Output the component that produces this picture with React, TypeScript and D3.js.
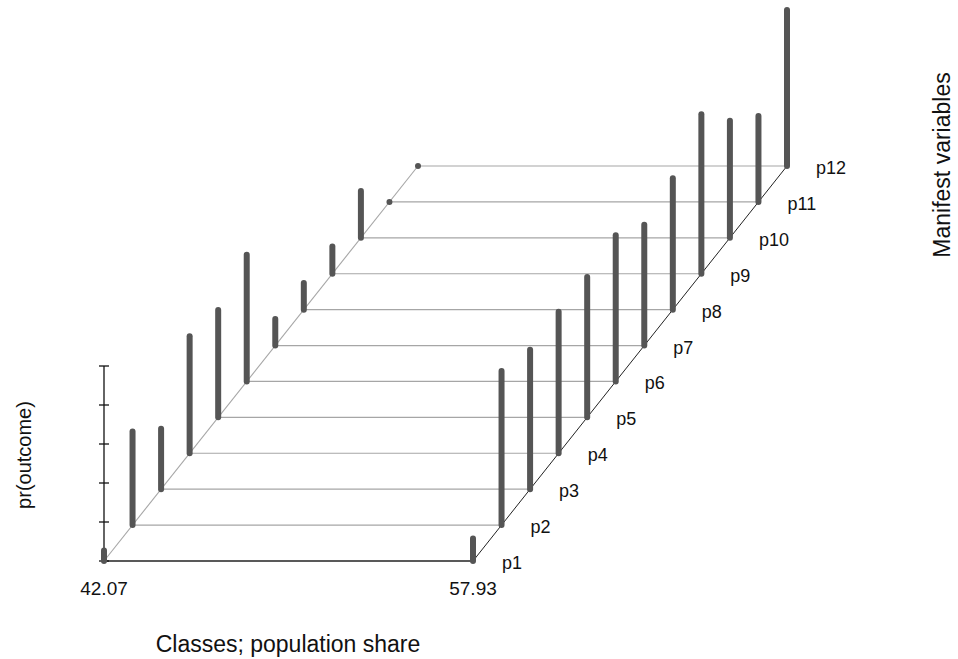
import React from "react";
import * as d3 from "d3";

const classLabels = ["42.07", "57.93"];
const variables = ["p1", "p2", "p3", "p4", "p5", "p6", "p7", "p8", "p9", "p10", "p11", "p12"];
const class1 = [0.054, 0.48, 0.31, 0.6, 0.55, 0.65, 0.136, 0.136, 0.14, 0.24, 0, 0];
const class2 = [0.115, 0.79, 0.715, 0.726, 0.72, 0.75, 0.62, 0.674, 0.818, 0.6, 0.44, 0.8];
const zTicks = [0, 0.2, 0.4, 0.6, 0.8, 1];

const W = 958;
const H = 659;
const FONT = "'Liberation Sans', Arial, Helvetica, sans-serif";

export default function App() {
  const series = [class1, class2];
  const xScale = d3.scaleLinear().domain([0, 1]).range([104, 473]);
  const depthX = d3.scaleLinear().domain([0, variables.length - 1]).range([0, 314]);
  const depthY = d3.scaleLinear().domain([0, variables.length - 1]).range([561, 166]);
  const zScale = d3.scaleLinear().domain([0, 1]).range([0, 195]);

  const proj = (ci: number, vi: number, z: number): [number, number] => [
    xScale(ci) + depthX(vi),
    depthY(vi) - zScale(z),
  ];

  const line = d3.line<[number, number]>();

  const last = variables.length - 1;

  return (
    <svg
      width={W}
      height={H}
      style={{ position: "absolute", left: 0, top: 0, background: "#fff" }}
      fontFamily={FONT}
    >
      {/* horizontal grid lines for each variable */}
      {variables.map((v, vi) =>
        vi === 0 ? null : (
          <path
            key={"g" + v}
            d={line([proj(0, vi, 0), proj(1, vi, 0)]) || ""}
            stroke="#a6a6a6"
            strokeWidth={1.2}
            fill="none"
          />
        )
      )}
      {/* left diagonal grid */}
      <path d={line([proj(0, 0, 0), proj(0, last, 0)]) || ""} stroke="#a6a6a6" strokeWidth={1.1} fill="none" />
      {/* right diagonal axis */}
      <path d={line([proj(1, 0, 0), proj(1, last, 0)]) || ""} stroke="#222" strokeWidth={1} fill="none" />
      {/* front x axis */}
      <path d={line([proj(0, 0, 0), proj(1, 0, 0)]) || ""} stroke="#222" strokeWidth={1.3} fill="none" />
      {/* z axis */}
      <path d={line([proj(0, 0, 0), proj(0, 0, 1)]) || ""} stroke="#111" strokeWidth={1.3} fill="none" />
      {zTicks.map((t) => {
        const [x, y] = proj(0, 0, t);
        return <line key={"zt" + t} x1={x - 5} x2={x + 5} y1={y} y2={y} stroke="#111" strokeWidth={1.3} />;
      })}

      {/* bars */}
      {series.map((vals, ci) =>
        vals.map((val, vi) => {
          const a = proj(ci, vi, 0);
          const b = proj(ci, vi, val);
          return (
            <path
              key={"b" + ci + "-" + vi}
              d={line([a, b]) || ""}
              stroke="#555555"
              strokeWidth={6}
              strokeLinecap="round"
              fill="none"
            />
          );
        })
      )}

      {/* class labels */}
      {classLabels.map((c, ci) => {
        const [x, y] = proj(ci, 0, 0);
        return (
          <text key={"c" + c} x={x} y={y + 34} fontSize={19} textAnchor="middle" fill="#111">
            {c}
          </text>
        );
      })}

      {/* variable labels */}
      {variables.map((v, vi) => {
        const [x, y] = proj(1, vi, 0);
        return (
          <text key={"l" + v} x={x + 29} y={y + 8} fontSize={18} fill="#111">
            {v}
          </text>
        );
      })}

      {/* axis titles */}
      <text x={288} y={652} fontSize={23} textAnchor="middle" fill="#111">
        Classes; population share
      </text>
      <text
        transform="translate(950,165) rotate(-90)"
        fontSize={23}
        textAnchor="middle"
        fill="#111"
      >
        Manifest variables
      </text>
      <text
        transform="translate(31,455) rotate(-90)"
        fontSize={20}
        textAnchor="middle"
        fill="#111"
      >
        pr(outcome)
      </text>
    </svg>
  );
}
